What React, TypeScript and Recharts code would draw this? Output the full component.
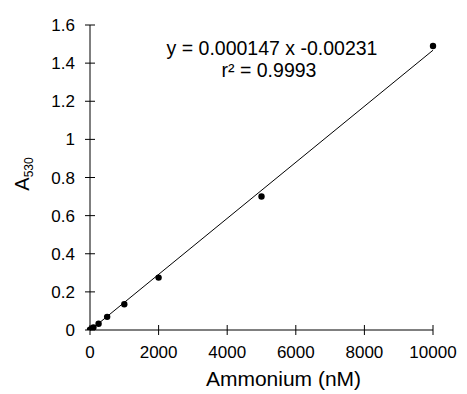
import React from 'react';
import { ScatterChart, Scatter, XAxis, YAxis, ReferenceLine, Label } from 'recharts';

const ammonium = [0, 50, 100, 250, 500, 1000, 2000, 5000, 10000];
const absorbance = [0.002, 0.006, 0.013, 0.033, 0.069, 0.135, 0.275, 0.7, 1.49];
const xTicks = [0, 2000, 4000, 6000, 8000, 10000];
const yTicks = [0, 0.2, 0.4, 0.6, 0.8, 1, 1.2, 1.4, 1.6];
const fitX = [0, 10000];
const fitY = [-0.0023, 1.4677];
const equationText = 'y = 0.000147 x -0.00231';
const r2Text = 'r² = 0.9993';

const points = ammonium.map((x, i) => ({ x, y: absorbance[i] }));
const FONT = '"Liberation Sans", Arial, sans-serif';

const XTick = (props: any) => {
  const { x, y, payload } = props;
  return (
    <g>
      <line x1={x} x2={x} y1={y - 5} y2={y + 5} stroke="#000" strokeWidth={1} />
      <text x={x} y={y + 28} textAnchor="middle" fontSize={17} fontFamily={FONT} fill="#000">
        {String(payload.value)}
      </text>
    </g>
  );
};

const YTick = (props: any) => {
  const { x, y, payload } = props;
  return (
    <g>
      <line x1={x - 5} x2={x + 5} y1={y} y2={y} stroke="#000" strokeWidth={1} />
      <text x={x - 15} y={y + 6} textAnchor="end" fontSize={17} fontFamily={FONT} fill="#000">
        {String(Math.round(payload.value * 10) / 10)}
      </text>
    </g>
  );
};

const Dot = (props: any) => {
  const { cx, cy } = props;
  return <circle cx={cx} cy={cy} r={3.2} fill="#000" />;
};

export default function App() {
  return (
    <div style={{ position: 'absolute', left: 0, top: 0, background: '#fff' }}>
      <ScatterChart width={467} height={394} margin={{ top: 25, right: 34, bottom: 0, left: 0 }}>
        <XAxis
          type="number"
          dataKey="x"
          domain={[0, 10000]}
          ticks={xTicks}
          interval={0}
          height={64}
          tickSize={0}
          tickMargin={0}
          tickLine={false}
          axisLine={{ stroke: '#000', strokeWidth: 1 }}
          tick={<XTick />}
        >
          <Label
            content={(p: any) => {
              const vb = p.viewBox;
              return (
                <text x={vb.x + vb.width / 2 + 22} y={vb.y + 56} textAnchor="middle" fontSize={21} fontFamily={FONT} fill="#000">
                  Ammonium (nM)
                </text>
              );
            }}
          />
        </XAxis>
        <YAxis
          type="number"
          dataKey="y"
          domain={[0, 1.6]}
          ticks={yTicks}
          interval={0}
          width={90}
          allowDataOverflow
          tickSize={0}
          tickMargin={0}
          tickLine={false}
          axisLine={{ stroke: '#000', strokeWidth: 1 }}
          tick={<YTick />}
        >
          <Label
            content={() => {
              const cx = 29;
              const cy = 174;
              return (
                <text transform={`translate(${cx},${cy}) rotate(-90)`} textAnchor="middle" fontFamily={FONT} fill="#000">
                  <tspan fontSize={20}>A</tspan>
                  <tspan fontSize={12} dy={4}>530</tspan>
                </text>
              );
            }}
          />
          <Label
            content={() => (
              <g>
                <text x={272} y={55} textAnchor="middle" fontSize={19.5} fontFamily={FONT} fill="#000">
                  {equationText}
                </text>
                <text x={269} y={77} textAnchor="middle" fontSize={19.5} fontFamily={FONT} fill="#000">
                  {r2Text}
                </text>
              </g>
            )}
          />
        </YAxis>
        <ReferenceLine
          segment={[{ x: fitX[0], y: fitY[0] }, { x: fitX[1], y: fitY[1] }]}
          stroke="#000"
          strokeWidth={1}
          ifOverflow="visible"
        />
        <Scatter data={points} fill="#000" shape={<Dot />} isAnimationActive={false} />
      </ScatterChart>
    </div>
  );
}
